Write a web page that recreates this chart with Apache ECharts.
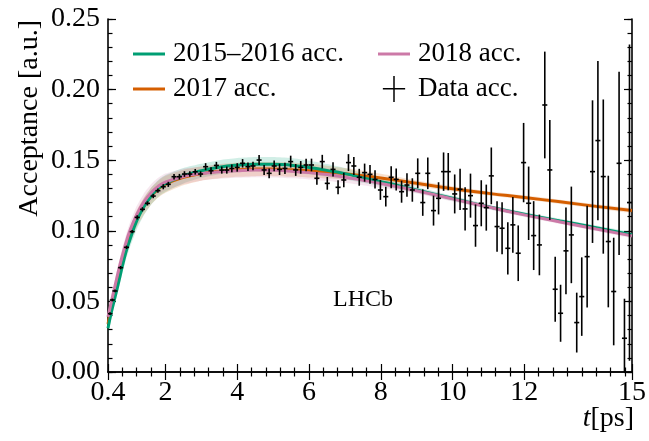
<!DOCTYPE html>
<html>
<head>
<meta charset="utf-8">
<script src="https://cdn.jsdelivr.net/npm/echarts@6/dist/echarts.min.js"></script>
<style>
  html, body { margin: 0; padding: 0; background: #fff; }
  #chart { width: 649px; height: 441px; }
</style>
</head>
<body>
<div id="chart"></div>
<script>
// fit curves
const curveT = [0.4, 0.5, 0.6, 0.7, 0.8, 0.9, 1.0, 1.2, 1.4, 1.6, 1.8, 2.0, 2.5, 3, 3.5, 4, 4.5, 5, 5.5, 6, 6.5, 7, 7.5, 8, 8.5, 9, 10, 11, 12, 13, 14, 15];
const acc1516 = [0.031, 0.043, 0.0535, 0.064, 0.075, 0.085, 0.093, 0.107, 0.117, 0.1245, 0.130, 0.1335, 0.139, 0.1425, 0.145, 0.1465, 0.1472, 0.1472, 0.1465, 0.1448, 0.1428, 0.1405, 0.1375, 0.1348, 0.132, 0.129, 0.123, 0.117, 0.1118, 0.107, 0.1022, 0.0972];
const acc2017 = [0.034, 0.0465, 0.0575, 0.068, 0.078, 0.0875, 0.0955, 0.1085, 0.1175, 0.1245, 0.1295, 0.133, 0.1378, 0.1405, 0.1422, 0.1432, 0.1437, 0.1437, 0.1433, 0.1426, 0.1416, 0.1404, 0.139, 0.1374, 0.1356, 0.1336, 0.1298, 0.1265, 0.1236, 0.1205, 0.1173, 0.1143];
const acc2018 = [0.039, 0.0505, 0.0615, 0.0725, 0.0825, 0.0915, 0.0995, 0.1115, 0.1205, 0.127, 0.1315, 0.1345, 0.1385, 0.1405, 0.1418, 0.1426, 0.143, 0.1428, 0.1422, 0.1412, 0.1398, 0.138, 0.1358, 0.1335, 0.131, 0.1284, 0.1226, 0.1168, 0.1113, 0.1063, 0.1013, 0.0964];
// half width of the shaded uncertainty bands
const bandHalf = [0.004, 0.004, 0.0045, 0.005, 0.005, 0.0055, 0.0055, 0.006, 0.006, 0.006, 0.006, 0.006, 0.0055, 0.005, 0.005, 0.005, 0.005, 0.005, 0.005, 0.0048, 0.0045, 0.004, 0.0035, 0.003, 0.0025, 0.002, 0.0018, 0.0015, 0.0015, 0.0015, 0.0015, 0.0015];

// data points with errors
const dataT = [0.455, 0.52, 0.594, 0.751, 0.917, 1.074, 1.213, 1.36, 1.50, 1.66, 1.79, 1.94, 2.08, 2.24, 2.39, 2.53, 2.68, 2.83, 2.98, 3.12, 3.27, 3.42, 3.57, 3.71,
  3.85, 4.00, 4.15, 4.30, 4.44, 4.61, 4.75, 4.89, 5.03, 5.18, 5.33, 5.49, 5.63, 5.77, 5.92, 6.07, 6.22, 6.37, 6.51, 6.67, 6.81, 6.97, 7.10, 7.25, 7.40, 7.55, 7.70, 7.84, 7.99, 8.14, 8.29, 8.43, 8.58, 8.73, 8.88,
  9.03, 9.17, 9.31, 9.47, 9.61, 9.75, 9.88, 10.06, 10.21, 10.35, 10.50, 10.64, 10.80, 10.94, 11.08, 11.24, 11.38, 11.54, 11.68, 11.83, 11.98, 12.12, 12.26, 12.42, 12.57, 12.71, 12.86, 13.01, 13.16, 13.31, 13.46, 13.60, 13.75, 13.90, 14.05, 14.20, 14.34, 14.49, 14.64, 14.79, 14.93];
const dataY = [0.0413, 0.051, 0.0574, 0.0739, 0.0883, 0.0994, 0.1095, 0.1152, 0.1194, 0.1246, 0.1284, 0.1312, 0.1329, 0.1383, 0.1383, 0.1402, 0.1402, 0.1418, 0.1402, 0.1454, 0.1425, 0.1463, 0.1430, 0.1430,
  0.1442, 0.1449, 0.1478, 0.1454, 0.1459, 0.1501, 0.1431, 0.1407, 0.1459, 0.1435, 0.1442, 0.1490, 0.1431, 0.1449, 0.1466, 0.1466, 0.1372, 0.1490, 0.1336, 0.1435, 0.1308, 0.1360, 0.1483, 0.1459, 0.1379, 0.1412, 0.1400, 0.1364, 0.1289, 0.1242, 0.1379, 0.1364, 0.1277, 0.1324, 0.1289,
  0.1407, 0.1200, 0.1407, 0.1143, 0.1230, 0.1419, 0.1419, 0.1261, 0.1294, 0.1155, 0.1249, 0.1037, 0.1195, 0.1164, 0.1389, 0.1030, 0.1018, 0.0876, 0.1042, 0.0841, 0.1483, 0.1195, 0.0966, 0.0900, 0.1891, 0.1431, 0.0586, 0.0416, 0.0858, 0.0971, 0.0350, 0.0534, 0.0817, 0.1419, 0.1639, 0.1384, 0.0924, 0.0570, 0.1478, 0.0239, 0.12];
const dataErr = [0.001, 0.001, 0.001, 0.0012, 0.0012, 0.0012, 0.0015, 0.0015, 0.0015, 0.0015, 0.0015, 0.0018, 0.0018, 0.002, 0.002, 0.002, 0.002, 0.002, 0.002, 0.0025, 0.0025, 0.0025, 0.0025, 0.0025,
  0.0028, 0.003, 0.003, 0.003, 0.003, 0.0035, 0.0035, 0.0035, 0.0038, 0.004, 0.004, 0.0042, 0.0042, 0.0045, 0.0045, 0.0045, 0.0045, 0.0048, 0.0045, 0.005, 0.005, 0.0052, 0.006, 0.0064, 0.006, 0.0064, 0.0066, 0.0064, 0.007, 0.007, 0.0078, 0.0078, 0.0078, 0.0083, 0.0083,
  0.0106, 0.0094, 0.0112, 0.0106, 0.0114, 0.0136, 0.0132, 0.0138, 0.0146, 0.0153, 0.0156, 0.0150, 0.0163, 0.0163, 0.0201, 0.0179, 0.0184, 0.0185, 0.0198, 0.0197, 0.0281, 0.0260, 0.0244, 0.0215, 0.0378, 0.0354, 0.0230, 0.0202, 0.0307, 0.0342, 0.0212, 0.0278, 0.0360, 0.0505, 0.0564, 0.0546, 0.0466, 0.0381, 0.0649, 0.028, 0.112];

const xMajor = [0.4, 2, 4, 6, 8, 10, 12, 15];
const xMinor = [0.8, 1.2, 1.6, 2.4, 2.8, 3.2, 3.6, 4.4, 4.8, 5.2, 5.6, 6.4, 6.8, 7.2, 7.6, 8.4, 8.8, 9.2, 9.6, 10.4, 10.8, 11.2, 11.6, 12.4, 12.8, 13.2, 13.6, 14.0, 14.4, 14.8];

const FONT = 'Liberation Serif';
const C1516 = '#009E73', C2017 = '#D55E00', C2018 = '#CC79A7';

const chart = echarts.init(document.getElementById('chart'), null, { renderer: 'canvas' });

function xAx(pos, values, len, labels, line) {
  return {
    type: 'value', min: 0.4, max: 15, position: pos,
    axisLine: { show: line, lineStyle: { color: '#000', width: 1.6 } },
    axisTick: { show: true, inside: true, length: len, customValues: values, lineStyle: { color: '#000', width: 1.2 } },
    axisLabel: { show: labels, customValues: values, margin: 7, fontFamily: FONT, fontSize: 28, color: '#000', formatter: v => String(v) },
    splitLine: { show: false }
  };
}
function yAx(pos, interval, len, labels, line) {
  return {
    type: 'value', min: 0, max: 0.25, interval: interval, position: pos,
    axisLine: { show: line, lineStyle: { color: '#000', width: 1.6 } },
    axisTick: { show: true, inside: true, length: len, lineStyle: { color: '#000', width: 1.2 } },
    axisLabel: { show: labels, margin: 8, fontFamily: FONT, fontSize: 28, color: '#000', formatter: v => v.toFixed(2) },
    splitLine: { show: false }
  };
}

function pairs(ys) { return curveT.map((t, i) => [t, ys[i]]); }

// shaded band as one polygon: upper edge forward, lower edge back
function bandSeries(ys, color) {
  return {
    type: 'custom', clip: true, silent: true, z: 1,
    data: [[curveT[0], ys[0]]],
    encode: { x: 0, y: 1 },
    renderItem: function (params, api) {
      const pts = [];
      for (let i = 0; i < curveT.length; i++) pts.push(api.coord([curveT[i], ys[i] + bandHalf[i]]));
      for (let i = curveT.length - 1; i >= 0; i--) pts.push(api.coord([curveT[i], ys[i] - bandHalf[i]]));
      return { type: 'polygon', shape: { points: pts, smooth: 0.2 }, style: { fill: color, opacity: 0.18 } };
    }
  };
}

function lineSeries(name, ys, color) {
  return { name: name, type: 'line', data: pairs(ys), symbol: 'none', smooth: true,
    itemStyle: { color: color }, lineStyle: { color: color, width: 3 }, z: 3 };
}

const errSeries = {
  name: 'Data acc.', type: 'custom', clip: true, z: 5,
  itemStyle: { color: '#000' },
  data: dataT.map((t, i) => [t, dataY[i], dataErr[i]]),
  encode: { x: 0, y: 1 },
  renderItem: function (params, api) {
    const t = api.value(0), y = api.value(1), e = api.value(2);
    const c = api.coord([t, y]);
    const hi = api.coord([t, y + e]);
    const lo = api.coord([t, y - e]);
    const hw = api.size([0.14, 0])[0] / 2;
    const st = { stroke: '#000', lineWidth: 1.6 };
    return { type: 'group', children: [
      { type: 'line', shape: { x1: c[0], y1: hi[1], x2: c[0], y2: lo[1] }, style: st },
      { type: 'line', shape: { x1: c[0] - hw, y1: c[1], x2: c[0] + hw, y2: c[1] }, style: st }
    ] };
  }
};

const legendText = { fontFamily: FONT, fontSize: 27, color: '#000', lineHeight: 28, padding: [0, 0, 0, 3] };

const option = {
  animation: false,
  backgroundColor: '#fff',
  grid: { left: 108, right: 14, top: 19, bottom: 69 },
  xAxis: [
    xAx('bottom', xMajor, 8, true, true),
    xAx('bottom', xMinor, 4.5, false, false),
    xAx('top', xMajor, 8, false, true),
    xAx('top', xMinor, 4.5, false, false)
  ],
  yAxis: [
    yAx('left', 0.05, 8, true, true),
    yAx('left', 0.01, 4.5, false, false),
    yAx('right', 0.05, 8, false, true),
    yAx('right', 0.01, 4.5, false, false)
  ],
  legend: [
    { data: ['2015–2016 acc.', '2017 acc.'], orient: 'vertical', left: 133, top: 40, padding: 0, icon: 'rect',
      itemWidth: 32, itemHeight: 3, itemGap: 7, selectedMode: false, textStyle: legendText },
    { data: [
        { name: '2018 acc.', icon: 'path://M0,0h32v3h-32z' },
        { name: 'Data acc.', icon: 'path://M0,13h24v1.6h-24z M11.2,0h1.6v28h-1.6z' }
      ],
      orient: 'vertical', left: 378, top: 40, padding: 0, itemWidth: 32, itemHeight: 26, itemGap: 7,
      selectedMode: false, textStyle: legendText }
  ],
  graphic: [
    { type: 'text', x: 30, y: 20, rotation: Math.PI / 2,
      style: { text: 'Acceptance [a.u.]', font: '28px "' + FONT + '"', fill: '#000', align: 'right', verticalAlign: 'middle' } },
    { type: 'text', x: 634, y: 419,
      style: { text: '{i|t}[ps]', font: '28px "' + FONT + '"', fill: '#000', align: 'right', verticalAlign: 'middle',
        rich: { i: { fontStyle: 'italic', fontFamily: FONT, fontSize: 28 } } } },
    { type: 'text', x: 363, y: 300,
      style: { text: 'LHCb', font: '24px "' + FONT + '"', fill: '#000', align: 'center', verticalAlign: 'middle' } }
  ],
  series: [
    bandSeries(acc1516, C1516),
    bandSeries(acc2017, C2017),
    bandSeries(acc2018, C2018),
    lineSeries('2017 acc.', acc2017, C2017),
    lineSeries('2015–2016 acc.', acc1516, C1516),
    lineSeries('2018 acc.', acc2018, C2018),
    errSeries
  ]
};

chart.setOption(option);
window.addEventListener('resize', chart.resize);
</script>
</body>
</html>
